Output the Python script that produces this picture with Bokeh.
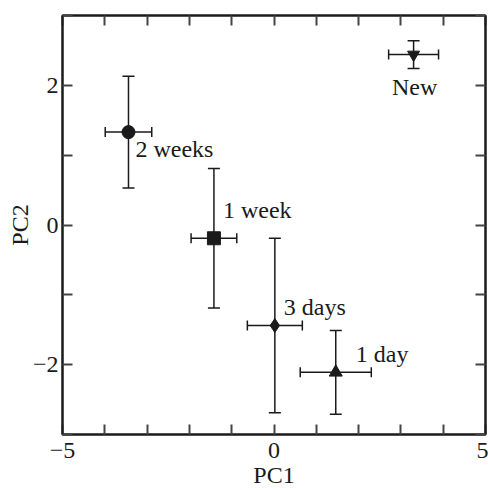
from bokeh.plotting import figure
from bokeh.models import (ColumnDataSource, Whisker, TeeHead, LinearAxis, FixedTicker, Range1d)
from bokeh.core.properties import value
from bokeh.embed import file_html
from bokeh.resources import INLINE

# ---- data ----
groups = ["2 weeks", "1 week", "3 days", "1 day", "New"]
pc1 = [-3.44, -1.42, 0.02, 1.46, 3.30]
pc2 = [1.33, -0.19, -1.44, -2.11, 2.44]
pc1_err = [0.55, 0.54, 0.65, 0.84, 0.59]
pc2_err = [0.80, 1.00, 1.25, 0.60, 0.20]
x_ticks = [-5, -4, -3, -2, -1, 0, 1, 2, 3, 4, 5]
x_tick_labels = {-5: "\u22125", 0: "0", 5: "5"}
y_ticks = [-3, -2, -1, 0, 1, 2, 3]
y_tick_labels = {-2: "\u22122", 0: "0", 2: "2"}

# ---- style ----
markers = ["circle", "square", "diamond", "triangle", "inverted_triangle"]
marker_sizes = [13, 13, 14, 13, 12]
label_dx = [7, 9, 9, 20, 1]
label_dy = [17, -28, -19, -18, 32]
label_align = ["left", "left", "left", "left", "center"]
FONT = "Liberation Serif"
INK = "#1a1a1a"

src = ColumnDataSource(dict(
    x=pc1, y=pc2, name=groups,
    xl=[a - e for a, e in zip(pc1, pc1_err)], xu=[a + e for a, e in zip(pc1, pc1_err)],
    yl=[a - e for a, e in zip(pc2, pc2_err)], yu=[a + e for a, e in zip(pc2, pc2_err)],
    marker=markers, size=marker_sizes, dx=label_dx, dy=label_dy, align=label_align,
))

p = figure(width=488, height=490, output_backend="svg", toolbar_location=None,
           x_range=Range1d(-5, 5), y_range=Range1d(-3, 3),
           x_axis_label="PC1", y_axis_label="PC2",
           min_border_left=62, min_border_right=3, min_border_top=15, min_border_bottom=0)
p.grid.visible = False
p.outline_line_color = INK
p.outline_line_width = 2
p.background_fill_color = "white"
p.border_fill_color = "white"


def style_axis(ax, ticks, labels, show_labels=True):
    ax.ticker = FixedTicker(ticks=ticks)
    ax.major_label_overrides = {t: labels.get(t, "") for t in ticks} if show_labels else {t: "" for t in ticks}
    ax.major_tick_in = 10
    ax.major_tick_out = 0
    ax.minor_tick_line_color = None
    ax.major_tick_line_width = 2
    ax.major_tick_line_color = "#444444"
    ax.axis_line_width = 2
    ax.axis_line_color = INK
    ax.major_label_text_font = FONT
    ax.major_label_text_font_size = "24px" if show_labels else "0px"
    ax.major_label_text_color = INK
    ax.axis_label_text_font = FONT
    ax.axis_label_text_font_size = "24px"
    ax.axis_label_text_font_style = "normal"
    ax.axis_label_text_color = INK


style_axis(p.xaxis[0], x_ticks, x_tick_labels)
p.xaxis[0].major_label_standoff = 8
p.xaxis[0].axis_label_standoff = 1
style_axis(p.yaxis[0], y_ticks, y_tick_labels)
p.yaxis[0].major_label_standoff = 4
p.yaxis[0].axis_label_standoff = -3

top = LinearAxis()
style_axis(top, x_ticks, {}, show_labels=False)
top.major_label_standoff = 0
p.add_layout(top, "above")
right = LinearAxis()
style_axis(right, y_ticks, {}, show_labels=False)
right.major_label_standoff = 0
p.add_layout(right, "right")

# error bars
p.add_layout(Whisker(source=src, base="x", lower="yl", upper="yu", dimension="height",
                     line_color=INK, line_width=1.5,
                     upper_head=TeeHead(size=12, line_color=INK, line_width=1.5),
                     lower_head=TeeHead(size=12, line_color=INK, line_width=1.5)))
p.add_layout(Whisker(source=src, base="y", lower="xl", upper="xu", dimension="width",
                     line_color=INK, line_width=1.5,
                     upper_head=TeeHead(size=10, line_color=INK, line_width=1.5),
                     lower_head=TeeHead(size=10, line_color=INK, line_width=1.5)))

p.scatter("x", "y", source=src, marker="marker", size="size",
          fill_color=INK, line_color=INK)

p.text("x", "y", text="name", source=src, x_offset="dx", y_offset="dy",
       text_align="align", text_baseline="alphabetic",
       text_font=value(FONT), text_font_size="24px", text_color=INK)

open("out.html", "w").write(file_html(p, INLINE))
